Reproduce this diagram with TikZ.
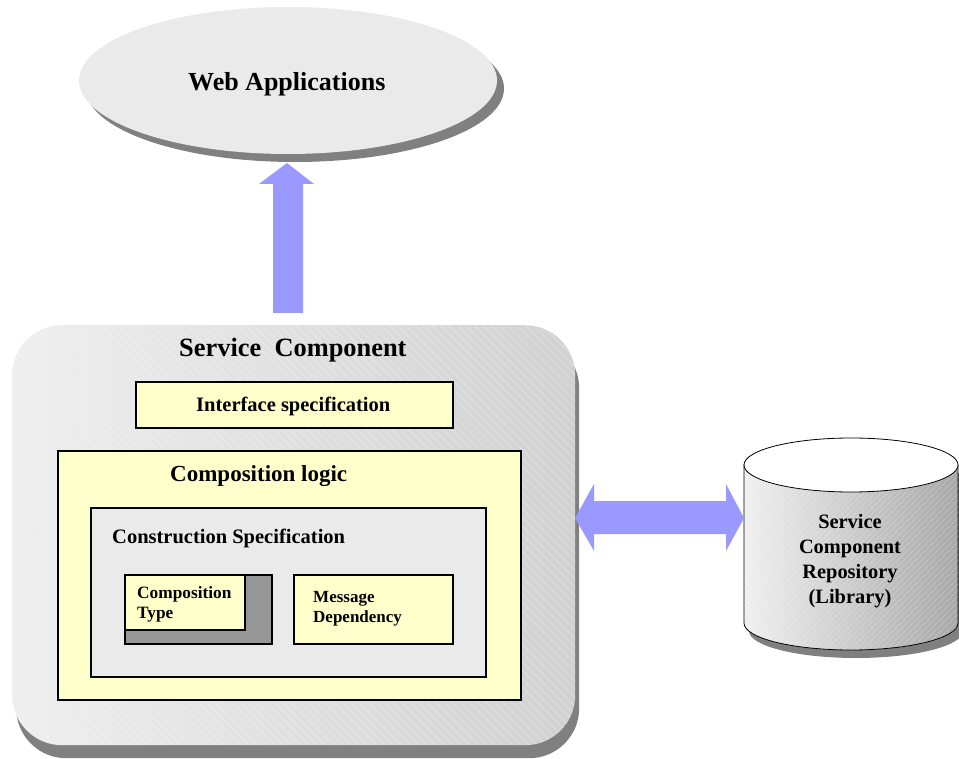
\documentclass[tikz,border=0pt]{standalone}
\usepackage{fontspec}
\setmainfont{Liberation Serif}
\usetikzlibrary{shapes.geometric,shadows,patterns.meta}
\definecolor{ellgray}{HTML}{EAEAEA}
\definecolor{shgray}{HTML}{808080}
\definecolor{boxyel}{HTML}{FFFFCC}
\definecolor{specgray}{HTML}{EAEAEA}
\definecolor{arrblue}{HTML}{9999FF}
\definecolor{typeshadow}{HTML}{969696}
\begin{document}
\begin{tikzpicture}[x=1pt,y=-1pt,
  boxbase/.style={draw=black, line width=1.6pt, inner sep=0pt, anchor=north west},
  ybox/.style={boxbase, fill=boxyel},
  lbl/.style={inner sep=0pt, anchor=base west},
  fat/.style={fill=arrblue}]
\useasboundingbox (0,0) rectangle (959,759);

% Web applications ellipse
\node[ellipse, minimum width=418pt, minimum height=147pt, inner sep=0pt, fill=ellgray,
  drop shadow={shadow xshift=7pt, shadow yshift=-8pt, fill=shgray, opacity=1}] (web) at (288,80.5) {};
\node[lbl, font=\bfseries\fontsize{26}{31}\selectfont] (webt) at (188,90.5) {Web Applications};

% Service component box
\node[anchor=north west, minimum width=563pt, minimum height=420pt, inner sep=0pt,
  rounded corners=50pt, left color=gray!13, right color=gray!36,
  drop shadow={shadow xshift=4pt, shadow yshift=-13pt, fill=shgray, opacity=1},
  postaction={pattern={Lines[angle=-45,distance=6pt,line width=0.5pt]}, pattern color=white, opacity=0.4}] (sc) at (12,325) {};
\node[lbl, font=\bfseries\fontsize{26.4}{31}\selectfont] (sct) at (179,357) {Service~~Component};

% Interface specification
\node[ybox, minimum width=317pt, minimum height=46pt] (iface) at (135,381) {};
\node[lbl, font=\bfseries\fontsize{20.5}{25}\selectfont] (ifacet) at (196,411) {Interface specification};

% Composition logic
\node[ybox, minimum width=463pt, minimum height=249pt] (clog) at (57,450) {};
\node[lbl, font=\bfseries\fontsize{23}{28}\selectfont] (clogt) at (170,481) {Composition logic};

% Construction specification
\node[boxbase, fill=specgray, minimum width=395pt, minimum height=169pt] (cspec) at (90,507) {};
\node[lbl, font=\bfseries\fontsize{20.5}{25}\selectfont] (cspect) at (112,543) {Construction Specification};

% Composition type
\node[boxbase, fill=typeshadow, minimum width=147pt, minimum height=69pt] (ctypesh) at (124,574) {};
\node[ybox, minimum width=120pt, minimum height=55pt] (ctype) at (124,574) {};
\node[inner sep=0pt, anchor=north west, align=left, font=\bfseries\fontsize{17.3}{20}\selectfont] (ctypet) at (137,586) {Composition\\Type};

% Message dependency
\node[ybox, minimum width=159pt, minimum height=69pt] (msg) at (293,574) {};
\node[inner sep=0pt, anchor=north west, align=left, font=\bfseries\fontsize{17}{20}\selectfont] (msgt) at (313,590.7) {Message\\Dependency};

% Repository cylinder
\fill[shgray] (749,473) -- (749,631) arc[start angle=180, end angle=360, x radius=107pt, y radius=27pt] -- (963,473) -- cycle;
\path[left color=gray!12, right color=gray!68, draw=black, line width=0.8pt,
  postaction={pattern={Lines[angle=45,distance=4pt,line width=0.4pt]}, pattern color=white, opacity=0.4}]
  (744,465) -- (744,623) arc[start angle=180, end angle=360, x radius=107pt, y radius=27pt] -- (958,465) -- cycle;
\draw[fill=white, line width=0.8pt] (851,465) ellipse[x radius=107pt, y radius=27pt];
\node[inner sep=0pt, anchor=north, align=center, font=\bfseries\fontsize{20.4}{25}\selectfont] (repo) at (850,514.2) {Service\\Component\\Repository\\(Library)};

% Fat arrows
\fill[fat] (273,313) -- (273,184) -- (259,184) -- (287,163) -- (314,184) -- (303,184) -- (303,313) -- cycle;
\fill[fat] (575,518) -- (594,484) -- (594,501) -- (726,501) -- (726,484) -- (744,518)
  -- (726,551) -- (726,534) -- (594,534) -- (594,551) -- cycle;
\end{tikzpicture}
\end{document}
